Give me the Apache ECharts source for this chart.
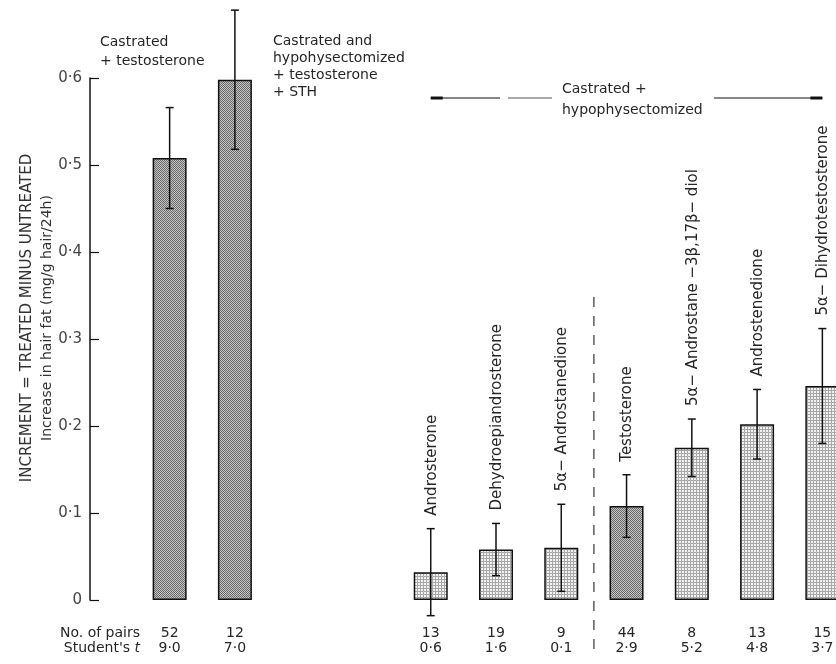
<!DOCTYPE html>
<html>
<head>
<meta charset="utf-8">
<script src="https://cdn.jsdelivr.net/npm/echarts@6/dist/echarts.min.js"></script>
<style>
  html, body { margin: 0; padding: 0; background: #fff; }
  #chart { width: 836px; height: 664px; }
</style>
</head>
<body>
<div id="chart"></div>
<script>
// slots along the x axis (two gaps between the groups)
var slots = ['Castrated + testosterone', 'Castrated and hypophysectomized + testosterone + STH', ' ', '  ',
  'Androsterone', 'Dehydroepiandrosterone', '5α− Androstanedione', 'Testosterone',
  '5α− Androstane −3β,17β− diol', 'Androstenedione', '5α− Dihydrotestosterone'];
// increase in hair fat, mg/g hair/24h
var means = [0.508, 0.598, null, null, 0.032, 0.058, 0.060, 0.108, 0.175, 0.202, 0.246];
var errs = [0.058, 0.080, null, null, 0.050, 0.030, 0.050, 0.036, 0.033, 0.040, 0.066];
var pairs = ['52', '12', '', '', '13', '19', '9', '44', '8', '13', '15'];
var studentT = ['9·0', '7·0', '', '', '0·6', '1·6', '0·1', '2·9', '5·2', '4·8', '3·7'];

var FONT = '"DejaVu Sans", sans-serif';
var INK = '#262626';
var darkBars = [0, 1, 7];

function pattern(bg, fg, size, dots) {
  var c = document.createElement('canvas');
  c.width = c.height = size;
  var g = c.getContext('2d');
  g.fillStyle = bg;
  g.fillRect(0, 0, size, size);
  g.fillStyle = fg;
  dots.forEach(function (d) { g.fillRect(d[0], d[1], 1, 1); });
  return { image: c, repeat: 'repeat' };
}
var darkFill = pattern('#c4c4c4', '#6a6a6a', 2, [[0, 0], [1, 1]]);
var lightFill = pattern('#f2f2f2', '#a8a8a8', 3, [[0, 0], [1, 0], [2, 0], [0, 1], [0, 2]]);

var barData = means.map(function (v, i) {
  if (v == null) return null;
  return { value: v, itemStyle: { color: darkBars.indexOf(i) >= 0 ? darkFill : lightFill } };
});

var errData = [];
means.forEach(function (v, i) {
  if (v != null) errData.push([i, v, errs[i]]);
});

var chart = echarts.init(document.getElementById('chart'));

var option = {
  animation: false,
  grid: { left: 137, top: 78, bottom: 64, width: 718, outerBoundsMode: 'none' },
  xAxis: {
    type: 'category',
    data: slots,
    axisLine: { show: false },
    axisTick: { show: false },
    axisLabel: {
      interval: 0,
      margin: 26,
      lineHeight: 15,
      fontFamily: FONT,
      fontSize: 14,
      color: INK,
      formatter: function (val, i) {
        return pairs[i] ? pairs[i] + '\n' + studentT[i] : '';
      }
    }
  },
  yAxis: {
    type: 'value',
    min: 0,
    max: 0.6,
    interval: 0.1,
    offset: 47,
    axisLine: { show: true, lineStyle: { color: '#111', width: 1.5 } },
    axisTick: { show: true, inside: true, length: 9, lineStyle: { color: '#111', width: 1.2 } },
    splitLine: { show: false },
    axisLabel: {
      margin: 8,
      fontFamily: FONT,
      fontSize: 15,
      color: '#444',
      formatter: function (v) {
        return v === 0 ? '0' : '0·' + Math.round(v * 10);
      }
    }
  },
  series: [
    {
      type: 'bar',
      data: barData,
      barWidth: 34,
      itemStyle: { borderColor: '#111', borderWidth: 1.5 }
    },
    {
      type: 'custom',
      data: errData,
      z: 5,
      renderItem: function (params, api) {
        var i = api.value(0), m = api.value(1), e = api.value(2);
        var top = api.coord([i, m + e]);
        var bot = api.coord([i, m - e]);
        var cap = 4;
        var st = { stroke: '#111', lineWidth: 1.5 };
        var kids = [
          { type: 'line', shape: { x1: top[0], y1: top[1], x2: bot[0], y2: bot[1] }, style: st },
          { type: 'line', shape: { x1: top[0] - cap, y1: top[1], x2: top[0] + cap, y2: top[1] }, style: st },
          { type: 'line', shape: { x1: bot[0] - cap, y1: bot[1], x2: bot[0] + cap, y2: bot[1] }, style: st }
        ];
        if (i >= 4) {
          kids.push({
            type: 'text',
            x: top[0] + 1,
            y: top[1] - 13,
            rotation: Math.PI / 2,
            style: {
              text: slots[i],
              align: 'left',
              verticalAlign: 'middle',
              font: '15px ' + FONT,
              fill: INK
            }
          });
        }
        return { type: 'group', children: kids };
      }
    }
  ]
};
chart.setOption(option);

// annotations placed from the axis scales
var px = function (i, v) { return chart.convertToPixel({ gridIndex: 0 }, [i, v]); };
var splitX = (px(6, 0)[0] + px(7, 0)[0]) / 2;
var arrL = px(4, 0.577), arrR = px(10, 0.577);
var yArr = arrL[1];

var graphics = [
  // y axis title
  {
    type: 'text', x: 37, y: 318, rotation: Math.PI / 2,
    style: {
      text: '{a|INCREMENT = TREATED MINUS UNTREATED}\n{b|Increase in hair fat (mg/g hair/24h)}',
      align: 'center', verticalAlign: 'middle',
      rich: {
        a: { fontFamily: FONT, fontSize: 15, fill: '#333', lineHeight: 21 },
        b: { fontFamily: FONT, fontSize: 14, fill: '#333', lineHeight: 20 }
      }
    }
  },
  // group notes
  {
    type: 'text', x: 100, y: 33,
    style: { text: 'Castrated\n+ testosterone', font: '14px ' + FONT, fill: INK, lineHeight: 19, align: 'left', verticalAlign: 'top' }
  },
  {
    type: 'text', x: 273, y: 33,
    style: { text: 'Castrated and\nhypohysectomized\n+ testosterone\n+ STH', font: '14px ' + FONT, fill: INK, lineHeight: 17, align: 'left', verticalAlign: 'top' }
  },
  // bracket over the hypophysectomized group
  { type: 'line', shape: { x1: arrL[0], y1: yArr, x2: 500, y2: yArr }, style: { stroke: '#111', lineWidth: 1.2 } },
  { type: 'line', shape: { x1: 508, y1: yArr, x2: 552, y2: yArr }, style: { stroke: '#555', lineWidth: 1 } },
  { type: 'line', shape: { x1: 714, y1: yArr, x2: arrR[0], y2: yArr }, style: { stroke: '#111', lineWidth: 1.2 } },
  { type: 'line', shape: { x1: arrL[0], y1: yArr, x2: arrL[0] + 12, y2: yArr }, style: { stroke: '#111', lineWidth: 3 } },
  { type: 'line', shape: { x1: arrR[0] - 12, y1: yArr, x2: arrR[0], y2: yArr }, style: { stroke: '#111', lineWidth: 3 } },
  {
    type: 'text', x: 562, y: yArr + 2,
    style: { text: 'Castrated +\nhypophysectomized', font: '14px ' + FONT, fill: INK, lineHeight: 21, align: 'left', verticalAlign: 'middle' }
  },
  // dashed divider
  { type: 'line', shape: { x1: splitX, y1: 297, x2: splitX, y2: 656 }, style: { stroke: '#333', lineWidth: 1.2, lineDash: [10, 9] } },
  // table row headers
  {
    type: 'text', x: 140, y: 633,
    style: { text: 'No. of pairs', font: '14px ' + FONT, fill: INK, align: 'right', verticalAlign: 'middle' }
  },
  {
    type: 'text', x: 140, y: 648,
    style: {
      text: "{r|Student's }{i|t}", align: 'right', verticalAlign: 'middle',
      rich: {
        r: { fontFamily: FONT, fontSize: 14, fill: INK },
        i: { fontFamily: FONT, fontSize: 14, fill: INK, fontStyle: 'italic' }
      }
    }
  }
];
chart.setOption({ graphic: graphics });
</script>
</body>
</html>
